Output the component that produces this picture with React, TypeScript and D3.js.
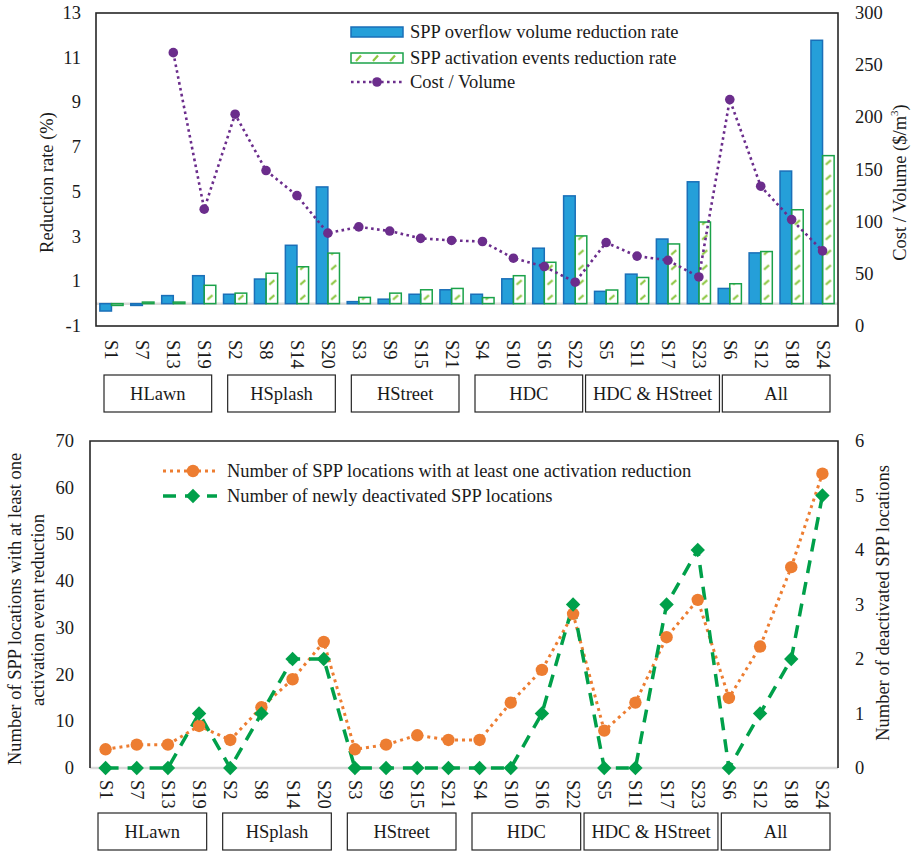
import React from 'react';
import * as d3 from 'd3';

// scenario order on the x axis
const categories = ["S1", "S7", "S13", "S19", "S2", "S8", "S14", "S20", "S3", "S9", "S15", "S21",
  "S4", "S10", "S16", "S22", "S5", "S11", "S17", "S23", "S6", "S12", "S18", "S24"];
const groups = ["HLawn", "HSplash", "HStreet", "HDC", "HDC & HStreet", "All"];

// top chart
const overflowRate = [-0.33, -0.08, 0.36, 1.25, 0.42, 1.1, 2.61, 5.22, 0.09, 0.2, 0.42, 0.62,
  0.42, 1.11, 2.48, 4.82, 0.55, 1.32, 2.89, 5.45, 0.68, 2.27, 5.93, 11.78];
const activationRate = [-0.08, 0.07, 0.07, 0.82, 0.47, 1.36, 1.65, 2.26, 0.28, 0.47, 0.62, 0.68,
  0.27, 1.25, 1.85, 3.03, 0.61, 1.17, 2.67, 3.65, 0.89, 2.33, 4.2, 6.62];
const costPerVolume: (number | null)[] = [null, null, 262, 112, 203, 149, 125, 89, 95, 91, 84, 82,
  81, 65, 57, 42, 80, 67, 63, 47, 217, 134, 102, 72];
const rateTicks = [-1, 1, 3, 5, 7, 9, 11, 13];
const costTicks = [0, 50, 100, 150, 200, 250, 300];

// bottom chart
const locationsReduced = [4, 5, 5, 9, 6, 13, 19, 27, 4, 5, 7, 6, 6, 14, 21, 33, 8, 14, 28, 36, 15, 26, 43, 63];
const newlyDeactivated = [0, 0, 0, 1, 0, 1, 2, 2, 0, 0, 0, 0, 0, 0, 1, 3, 0, 0, 3, 4, 0, 1, 2, 5];
const countTicks = [0, 10, 20, 30, 40, 50, 60, 70];
const deactTicks = [0, 1, 2, 3, 4, 5, 6];

const FONT = '"Liberation Serif", "Times New Roman", serif';
const FS = 18.5;
const BLUE = '#259FD9';
const BLUE_DARK = '#1A6FB8';
const GREEN_BAR = '#1BA24A';
const HATCH = '#8CC63F';
const PURPLE = '#6B2D8C';
const ORANGE = '#ED7D31';
const GREEN_LINE = '#00A04A';
const AXIS = '#262626';
const ZERO = '#D9D9D9';

const GroupBoxes = ({ x, y0, y1 }: { x: d3.ScaleBand<string>, y0: number, y1: number }) => (
  <g>
    {groups.map((g, gi) => {
      const start = x(categories[gi * 4])!;
      const end = x(categories[gi * 4 + 3])! + x.bandwidth();
      const cx = (start + end) / 2;
      // long names get a wider box, like in the original
      const w = Math.max(x.step() * 4 - 16, g.length * 10.3);
      return (
        <g key={g}>
          <rect x={cx - w / 2} y={y0} width={w} height={y1 - y0} fill="#fff" stroke={AXIS} strokeWidth={1.2} />
          <text x={cx} y={(y0 + y1) / 2} textAnchor="middle" dominantBaseline="central">{g}</text>
        </g>
      );
    })}
  </g>
);

const TopChart = () => {
  const left = 96, right = 838, top = 13, bottom = 326;
  const x = d3.scaleBand<string>().domain(categories).range([left, right]).paddingInner(0.25).paddingOuter(0.125);
  const xAll = d3.scaleBand<string>().domain(categories).range([left, right]);
  const sub = d3.scaleBand<string>().domain(['a', 'b']).range([0, x.bandwidth()]);
  const y = d3.scaleLinear().domain([-1, 13]).range([bottom, top]);
  const yR = d3.scaleLinear().domain([0, 300]).range([bottom, top]);
  const step = x.step();
  const greenStart = x(categories[0])! + sub('b')!;
  const line = d3.line<number | null>()
    .defined(d => d !== null)
    .x((_, i) => xAll(categories[i])! + xAll.bandwidth() / 2)
    .y(d => yR(d as number));
  const bar = (v: number) => ({ y: Math.min(y(v), y(0)), h: Math.abs(y(v) - y(0)) });

  return (
    <g>
      <defs>
        <pattern id="hatchBars" patternUnits="userSpaceOnUse" x={greenStart} y={y(0)} width={step} height={15}>
          <line x1={sub.bandwidth() / 2 - 2.5} y1={11} x2={sub.bandwidth() / 2 + 2.5} y2={6.5} stroke={HATCH} strokeWidth={2.2} />
        </pattern>
        <pattern id="hatchLegend" patternUnits="userSpaceOnUse" x={351} y={53} width={17} height={10}>
          <line x1={5} y1={8} x2={10} y2={2.5} stroke={HATCH} strokeWidth={2.2} />
        </pattern>
      </defs>
      <line x1={left} x2={right} y1={y(0)} y2={y(0)} stroke={ZERO} strokeWidth={2.5} />
      {categories.map((c, i) => {
        const b1 = bar(overflowRate[i]);
        const b2 = bar(activationRate[i]);
        return (
          <g key={c}>
            <rect x={x(c)! + sub('a')!} y={b1.y} width={sub.bandwidth()} height={b1.h} fill={BLUE} stroke={BLUE_DARK} strokeWidth={1.5} />
            <rect x={x(c)! + sub('b')!} y={b2.y} width={sub.bandwidth()} height={b2.h} fill="url(#hatchBars)" stroke={GREEN_BAR} strokeWidth={1.5} />
          </g>
        );
      })}
      <path d={line(costPerVolume) || ''} fill="none" stroke={PURPLE} strokeWidth={2.6} strokeDasharray="2.6 3.4" />
      {costPerVolume.map((v, i) => v === null ? null : (
        <circle key={i} cx={xAll(categories[i])! + xAll.bandwidth() / 2} cy={yR(v)} r={4.8} fill={PURPLE} />
      ))}
      <rect x={left} y={top} width={right - left} height={bottom - top} fill="none" stroke={AXIS} strokeWidth={1.6} />
      {rateTicks.map(t => (
        <text key={t} x={81} y={y(t)} textAnchor="end" dominantBaseline="central">{t}</text>
      ))}
      {costTicks.map(t => (
        <text key={t} x={855} y={yR(t)} dominantBaseline="central">{t}</text>
      ))}
      <text transform={`translate(47,${(top + bottom) / 2 + 13}) rotate(-90)`} textAnchor="middle" dominantBaseline="central">Reduction rate (%)</text>
      <text transform={`translate(900,${(top + bottom) / 2 + 13}) rotate(-90)`} textAnchor="middle" dominantBaseline="central">
        Cost / Volume ($/m<tspan baselineShift="super" fontSize={11}>3</tspan>)
      </text>
      {categories.map(c => (
        <text key={c} transform={`translate(${xAll(c)! + xAll.bandwidth() / 2},340) rotate(90)`} dominantBaseline="central">{c}</text>
      ))}
      <GroupBoxes x={xAll} y0={375} y1={412} />
      {/* legend */}
      <rect x={351} y={27} width={52} height={10} fill={BLUE} stroke={BLUE_DARK} strokeWidth={1.5} />
      <text x={410} y={32} dominantBaseline="central">SPP overflow volume reduction rate</text>
      <rect x={351} y={53} width={52} height={10} fill="url(#hatchLegend)" stroke={GREEN_BAR} strokeWidth={1.5} />
      <text x={410} y={58} dominantBaseline="central">SPP activation events reduction rate</text>
      <line x1={351} x2={403} y1={82} y2={82} stroke={PURPLE} strokeWidth={2.6} strokeDasharray="2.6 3.4" />
      <circle cx={377} cy={82} r={4.8} fill={PURPLE} />
      <text x={410} y={82} dominantBaseline="central">Cost / Volume</text>
    </g>
  );
};

const BottomChart = () => {
  const left = 90, right = 838, top = 441, bottom = 768;
  const x = d3.scaleBand<string>().domain(categories).range([left, right]);
  const cx = (c: string) => x(c)! + x.bandwidth() / 2;
  const y = d3.scaleLinear().domain([0, 70]).range([bottom, top]);
  const yR = d3.scaleLinear().domain([0, 6]).range([bottom, top]);
  const lineL = d3.line<number>().x((_, i) => cx(categories[i])).y(d => y(d));
  const lineR = d3.line<number>().x((_, i) => cx(categories[i])).y(d => yR(d));
  const diamond = (px: number, py: number, r: number) => `M${px},${py - r}L${px + r},${py}L${px},${py + r}L${px - r},${py}Z`;

  return (
    <g>
      <line x1={left} x2={right} y1={bottom} y2={bottom} stroke={ZERO} strokeWidth={2.5} />
      <path d={`M${left},${bottom}V${top}H${right}V${bottom}`} fill="none" stroke={AXIS} strokeWidth={1.6} />
      <path d={lineL(locationsReduced) || ''} fill="none" stroke={ORANGE} strokeWidth={3} strokeDasharray="3 4" />
      <path d={lineR(newlyDeactivated) || ''} fill="none" stroke={GREEN_LINE} strokeWidth={3.5} strokeDasharray="13 9" />
      {locationsReduced.map((v, i) => (
        <circle key={i} cx={cx(categories[i])} cy={y(v)} r={6.2} fill={ORANGE} />
      ))}
      {newlyDeactivated.map((v, i) => (
        <path key={i} d={diamond(cx(categories[i]), yR(v), 7.2)} fill={GREEN_LINE} />
      ))}
      {countTicks.map(t => (
        <text key={t} x={74} y={y(t)} textAnchor="end" dominantBaseline="central">{t}</text>
      ))}
      {deactTicks.map(t => (
        <text key={t} x={855} y={yR(t)} dominantBaseline="central">{t}</text>
      ))}
      <text transform={`translate(15,609) rotate(-90)`} textAnchor="middle" dominantBaseline="central">Number of SPP locations with at least one</text>
      <text transform={`translate(38,610) rotate(-90)`} textAnchor="middle" dominantBaseline="central">activation event reduction</text>
      <text transform={`translate(883,603) rotate(-90)`} textAnchor="middle" dominantBaseline="central">Number of deactivated SPP locations</text>
      {categories.map(c => (
        <text key={c} transform={`translate(${cx(c)},780) rotate(90)`} dominantBaseline="central">{c}</text>
      ))}
      <GroupBoxes x={x} y0={813} y1={850} />
      {/* legend */}
      <line x1={163} x2={217} y1={471} y2={471} stroke={ORANGE} strokeWidth={3} strokeDasharray="3 4" />
      <circle cx={193} cy={471} r={6.2} fill={ORANGE} />
      <text x={227} y={471} dominantBaseline="central">Number of SPP locations with at least one activation reduction</text>
      <line x1={163} x2={217} y1={496} y2={496} stroke={GREEN_LINE} strokeWidth={3.5} strokeDasharray="13 9" />
      <path d={diamond(193, 496, 7.2)} fill={GREEN_LINE} />
      <text x={227} y={496} dominantBaseline="central">Number of newly deactivated SPP locations</text>
    </g>
  );
};

export default function App() {
  return (
    <svg width={913} height={851} style={{ position: 'absolute', left: 0, top: 0, background: '#fff' }}
      fontFamily={FONT} fontSize={FS} fill="#1a1a1a">
      <rect width={913} height={851} fill="#fff" />
      <TopChart />
      <BottomChart />
    </svg>
  );
}
